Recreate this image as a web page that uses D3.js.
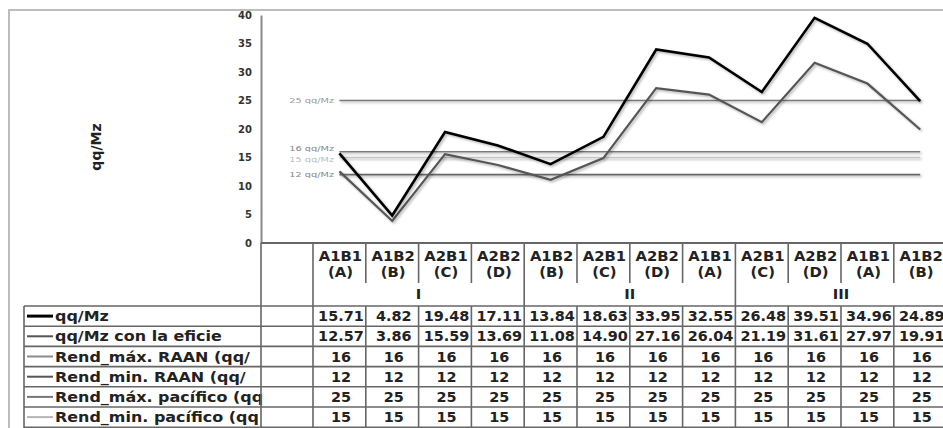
<!DOCTYPE html>
<html><head><meta charset="utf-8">
<script src="https://cdn.jsdelivr.net/npm/d3@7"></script>
<style>
html,body{margin:0;padding:0;background:#fff;}
svg{display:block;font-family:"DejaVu Sans",Verdana,sans-serif;}
</style></head>
<body><svg id="c" width="943" height="428"></svg>
<script>
const catTop = ["A1B1","A1B2","A2B1","A2B2","A1B2","A2B1","A2B2","A1B1","A2B1","A2B2","A1B1","A1B2"];
const catBottom = ["(A)","(B)","(C)","(D)","(B)","(C)","(D)","(A)","(C)","(D)","(A)","(B)"];
const groups = ["I","II","III"];
const groupSize = 4;
const seriesNames = ["qq/Mz","qq/Mz con la eficie","Rend_máx. RAAN (qq/","Rend_min. RAAN (qq/","Rend_máx. pacífico (qq","Rend_min. pacífico (qq"];
const qqMz = [15.71,4.82,19.48,17.11,13.84,18.63,33.95,32.55,26.48,39.51,34.96,24.89];
const qqMzEfic = [12.57,3.86,15.59,13.69,11.08,14.90,27.16,26.04,21.19,31.61,27.97,19.91];
const maxRAAN = [16,16,16,16,16,16,16,16,16,16,16,16];
const minRAAN = [12,12,12,12,12,12,12,12,12,12,12,12];
const maxPacifico = [25,25,25,25,25,25,25,25,25,25,25,25];
const minPacifico = [15,15,15,15,15,15,15,15,15,15,15,15];
const refLabels = ["16 qq/Mz","12 qq/Mz","25 qq/Mz","15 qq/Mz"];
const yTicks = [0,5,10,15,20,25,30,35,40];

const series = [
  {name: seriesNames[0], values: qqMz, color:"#000", width:2.6, fmt:d3.format(".2f"), line:true},
  {name: seriesNames[1], values: qqMzEfic, color:"#555", width:2.2, fmt:d3.format(".2f"), line:true},
  {name: seriesNames[2], values: maxRAAN, color:"#8a8a8a", width:1.6, fmt:d3.format("d"), ref:refLabels[0], lc:"#7a7a7a", tc:"#888"},
  {name: seriesNames[3], values: minRAAN, color:"#555", width:1.6, fmt:d3.format("d"), ref:refLabels[1], lc:"#666", tc:"#888"},
  {name: seriesNames[4], values: maxPacifico, color:"#777", width:1.6, fmt:d3.format("d"), ref:refLabels[2], lc:"#777", tc:"#999"},
  {name: seriesNames[5], values: minPacifico, color:"#b5b5b5", width:1.6, fmt:d3.format("d"), ref:refLabels[3], lc:"#c4c4c4", tc:"#bbb"}
];

const svg = d3.select("#c");
const defs = svg.append("defs");
const f = defs.append("filter").attr("id","sh").attr("filterUnits","userSpaceOnUse")
  .attr("x",0).attr("y",0).attr("width",960).attr("height",440);
f.append("feDropShadow").attr("dx",1.5).attr("dy",1.5).attr("stdDeviation",1).attr("flood-color","#000").attr("flood-opacity",0.3);
defs.append("clipPath").attr("id","legclip").append("rect").attr("x",20).attr("y",300).attr("width",244).attr("height",130);

const axisX = 261, plotTop = 15, plotBottom = 243;
const x = d3.scaleBand().domain(d3.range(catTop.length)).range([313, 313 + 12*52.8]).paddingInner(0).paddingOuter(0);
const y = d3.scaleLinear().domain([0,40]).range([plotBottom, plotTop]);
const cx = i => x(i) + x.bandwidth()/2;

svg.append("rect").attr("x",9).attr("y",10).attr("width",1000).attr("height",500)
  .attr("fill","none").attr("stroke","#bdbdbd").attr("stroke-width",2);

const yAxis = svg.append("g").attr("transform",`translate(${axisX},0)`)
  .call(d3.axisLeft(y).tickValues(yTicks).tickSize(0).tickPadding(9));
yAxis.select(".domain").attr("stroke","#888").attr("stroke-width",2);
yAxis.selectAll("text").attr("font-size",10).attr("font-weight","bold").attr("fill","#333")
  .attr("font-family","'DejaVu Sans',sans-serif");

svg.append("text").attr("transform",`translate(101,147) rotate(-90)`)
  .attr("text-anchor","middle").attr("font-size",14).attr("font-weight","bold").attr("fill","#222")
  .text("qq/Mz");

const line = d3.line().x((d,i)=>cx(i)).y(d=>y(d));
series.filter(s=>s.ref).forEach(s=>{
  svg.append("path").datum(s.values).attr("d",line).attr("fill","none")
    .attr("stroke",s.lc).attr("stroke-width",s.width).attr("filter","url(#sh)");
});
series.filter(s=>s.ref).forEach(s=>{
  const off = s.values[0]===16 ? -3 : (s.values[0]===15 ? 1.5 : 0);
  svg.append("text").attr("transform",`translate(334,${y(s.values[0])+off+2.5}) scale(1.3,1)`).attr("text-anchor","end")
    .attr("font-size",7.5).attr("fill", s.tc).text(s.ref);
});
series.filter(s=>s.line).slice().reverse().forEach(s=>{
  svg.append("path").datum(s.values).attr("d",line).attr("fill","none")
    .attr("stroke",s.color).attr("stroke-width",s.width).attr("stroke-linejoin","miter")
    .attr("filter","url(#sh)");
});

const tableStroke = "#666";
svg.append("line").attr("x1",axisX).attr("x2",943).attr("y1",plotBottom).attr("y2",plotBottom)
  .attr("stroke",tableStroke).attr("stroke-width",2);

const rowTop = 306, rowH = 20.2;
const nRows = series.length;
d3.range(nRows+1).forEach(r=>{
  svg.append("line").attr("x1",24).attr("x2",943).attr("y1",rowTop+r*rowH).attr("y2",rowTop+r*rowH)
    .attr("stroke",tableStroke).attr("stroke-width",1.6);
});
svg.append("line").attr("x1",24).attr("x2",24).attr("y1",rowTop).attr("y2",430).attr("stroke",tableStroke).attr("stroke-width",1.6);
svg.append("line").attr("x1",x(0)).attr("x2",x(0)).attr("y1",plotBottom).attr("y2",430).attr("stroke",tableStroke).attr("stroke-width",1.6);
d3.range(1,catTop.length+1).forEach(i=>{
  const xx = x(0) + i*x.bandwidth();
  const isGroup = i % groupSize === 0;
  svg.append("line").attr("x1",xx).attr("x2",xx).attr("y1",plotBottom).attr("y2",283)
    .attr("stroke",tableStroke).attr("stroke-width",1.6);
  svg.append("line").attr("x1",xx).attr("x2",xx).attr("y1",isGroup?283:rowTop).attr("y2",430)
    .attr("stroke",tableStroke).attr("stroke-width",1.6);
});

function stext(g, xx, yy, txt, size, sx, anchor, color){
  return g.append("text").attr("transform",`translate(${xx},${yy}) scale(${sx},1)`)
    .attr("text-anchor",anchor||"middle").attr("font-size",size).attr("font-weight","bold")
    .attr("fill",color||"#222").text(txt);
}
catTop.forEach((c,i)=>{
  stext(svg, cx(i)+1, 261, c, 14, 1.06);
  stext(svg, cx(i)+1, 277, catBottom[i], 14, 1.06);
});
groups.forEach((g,gi)=>{
  const xm = (x(gi*groupSize) + x(gi*groupSize+groupSize-1) + x.bandwidth())/2;
  stext(svg, xm, 299, g, 14, 1.06);
});

const leg = svg.append("g").attr("clip-path","url(#legclip)");
series.forEach((s,r)=>{
  const yc = rowTop + r*rowH + rowH/2;
  leg.append("line").attr("x1",27).attr("x2",53).attr("y1",yc).attr("y2",yc)
    .attr("stroke",s.color).attr("stroke-width",r===0?3:2);
  stext(leg, 55, yc+5, s.name, 14, 1.14, "start", "#222");
  s.values.forEach((v,i)=>{
    stext(svg, cx(i)+1.5, yc+5, s.fmt(v), 14, 1.03, "middle", "#222");
  });
});
svg.append("line").attr("x1",axisX).attr("x2",axisX).attr("y1",plotBottom).attr("y2",430).attr("stroke",tableStroke).attr("stroke-width",1.6);
</script>
</body></html>
